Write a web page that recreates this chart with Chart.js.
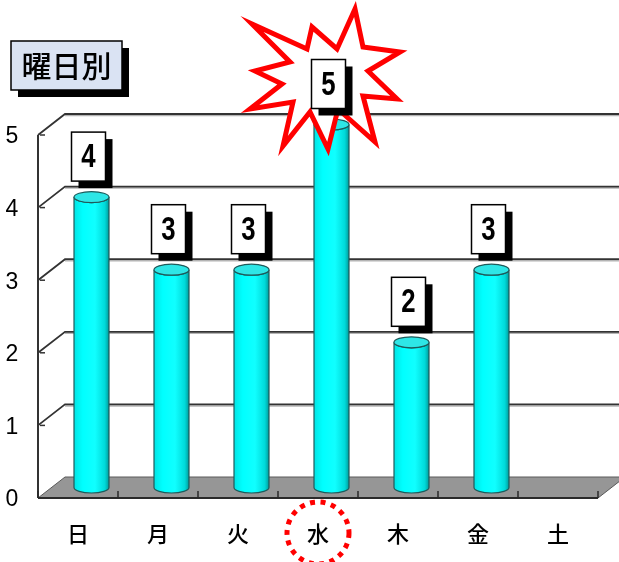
<!DOCTYPE html>
<html>
<head>
<meta charset="utf-8">
<script src="https://cdn.jsdelivr.net/npm/chart.js@4.4.1/dist/chart.umd.min.js"></script>
<style>
  html, body { margin: 0; padding: 0; background: #fff; }
  #wrap { width: 619px; height: 562px; }
</style>
</head>
<body>
<div id="wrap"><canvas id="dayChart" width="619" height="562"></canvas></div>
<script>
'use strict';

// Data
const days = ['日', '月', '火', '水', '木', '金', '土'];
const counts = [4, 3, 3, 5, 2, 3, 0];
const yTicks = [0, 1, 2, 3, 4, 5];
const chartTitle = '曜日別';
const highlightDay = '水';

// depth of the fake 3D box
const DX = 27;
const DY = -21;

const cjk = '"Noto Sans CJK JP", "Noto Sans", sans-serif';
const latin = '"Liberation Sans", Arial, sans-serif';

const wallPlugin = {
	id: 'wall',
	beforeDatasetsDraw: function (chart) {
		const ctx = chart.ctx;
		const y = chart.scales.y;
		const left = chart.chartArea.left;
		const right = chart.chartArea.right;
		const y0 = y.getPixelForValue(0);

		ctx.save();
		// floor
		ctx.fillStyle = '#969696';
		ctx.beginPath();
		ctx.moveTo(left, y0);
		ctx.lineTo(right, y0);
		ctx.lineTo(right + DX, y0 + DY);
		ctx.lineTo(left + DX, y0 + DY);
		ctx.closePath();
		ctx.fill();
		ctx.strokeStyle = '#5a5a5a';
		ctx.lineWidth = 1;
		ctx.stroke();

		// back wall grid lines with a soft shadow
		for (let i = 1; i < yTicks.length; ++i) {
			const py = y.getPixelForValue(yTicks[i]);
			ctx.strokeStyle = '#b4b4b4';
			ctx.lineWidth = 1.5;
			ctx.beginPath();
			ctx.moveTo(left + DX, py + DY + 1.5);
			ctx.lineTo(chart.width, py + DY + 1.5);
			ctx.stroke();
			ctx.strokeStyle = '#333333';
			ctx.lineWidth = 1.8;
			ctx.beginPath();
			ctx.moveTo(left, py);
			ctx.lineTo(left + DX, py + DY);
			ctx.lineTo(chart.width, py + DY);
			ctx.stroke();
		}

		// front value axis
		ctx.strokeStyle = '#333333';
		ctx.lineWidth = 2;
		ctx.beginPath();
		ctx.moveTo(left, y.getPixelForValue(yTicks[yTicks.length - 1]));
		ctx.lineTo(left, y0);
		ctx.stroke();
		ctx.lineWidth = 1.5;
		for (let i = 0; i < yTicks.length; ++i) {
			const py = y.getPixelForValue(yTicks[i]);
			ctx.beginPath();
			ctx.moveTo(left + 2, py);
			ctx.lineTo(left + 7, py);
			ctx.stroke();
		}

		// front floor edge and category ticks
		ctx.strokeStyle = '#2a2a2a';
		ctx.lineWidth = 2;
		ctx.beginPath();
		ctx.moveTo(left, y0);
		ctx.lineTo(right, y0);
		ctx.stroke();
		const step = (right - left) / days.length;
		ctx.lineWidth = 1.5;
		for (let i = 0; i <= days.length; ++i) {
			const px = left + i * step;
			ctx.beginPath();
			ctx.moveTo(px, y0);
			ctx.lineTo(px, y0 - 7);
			ctx.stroke();
		}
		ctx.restore();
	}
};

function drawCylinder(ctx, cx, top, base, w) {
	const rx = w / 2;
	const ry = 5.5;
	const grad = ctx.createLinearGradient(cx - rx, 0, cx + rx, 0);
	grad.addColorStop(0, '#00e4e4');
	grad.addColorStop(0.25, '#00ffff');
	grad.addColorStop(0.6, '#10ffff');
	grad.addColorStop(0.88, '#00dada');
	grad.addColorStop(1, '#009c9c');

	ctx.save();
	ctx.fillStyle = grad;
	ctx.strokeStyle = '#1e5a5a';
	ctx.lineWidth = 1.2;
	ctx.beginPath();
	ctx.moveTo(cx - rx, top);
	ctx.lineTo(cx - rx, base);
	ctx.ellipse(cx, base, rx, ry, 0, Math.PI, 0, true);
	ctx.lineTo(cx + rx, top);
	ctx.ellipse(cx, top, rx, ry, 0, 0, Math.PI, false);
	ctx.closePath();
	ctx.fill();
	ctx.stroke();

	// top cap
	ctx.fillStyle = '#2ee6e6';
	ctx.beginPath();
	ctx.ellipse(cx, top, rx, ry, 0, 0, Math.PI * 2);
	ctx.fill();
	ctx.stroke();
	ctx.restore();
}

const cylinderPlugin = {
	id: 'cylinders',
	afterDatasetsDraw: function (chart) {
		const ctx = chart.ctx;
		const meta = chart.getDatasetMeta(0);
		meta.data.forEach(function (bar, i) {
			if (!counts[i]) {
				return;
			}
			drawCylinder(ctx, bar.x + DX / 2, bar.y + DY / 2, bar.base + DY / 2, 35);
		});
	}
};

function drawStar(ctx, cx, cy) {
	// irregular burst outline, offsets from its centre
	const pts = [
		[33, -70], [15, -30], [-10, -52], [-15, -30], [-70, -55], [-32, -17],
		[-67, -8], [-40, 5], [-72, 30], [-29, 23], [-39, 67], [-12, 33],
		[6, 70], [16, 30], [53, 63], [41, 17], [75, 20], [46, -8],
		[78, -27], [41, -32]
	];
	ctx.save();
	ctx.beginPath();
	pts.forEach(function (p, i) {
		if (i === 0) {
			ctx.moveTo(cx + p[0], cy + p[1]);
		} else {
			ctx.lineTo(cx + p[0], cy + p[1]);
		}
	});
	ctx.closePath();
	ctx.fillStyle = '#ffffff';
	ctx.fill();
	ctx.strokeStyle = '#ff0000';
	ctx.lineWidth = 5;
	ctx.lineJoin = 'miter';
	ctx.stroke();
	ctx.restore();
}

function drawBox(ctx, x, y, w, h, fill, shadow) {
	ctx.fillStyle = '#000';
	ctx.fillRect(x + shadow, y + shadow, w, h);
	ctx.fillStyle = fill;
	ctx.fillRect(x, y, w, h);
	ctx.strokeStyle = '#000';
	ctx.lineWidth = 1.5;
	ctx.strokeRect(x, y, w, h);
}

const labelPlugin = {
	id: 'labels',
	afterDraw: function (chart) {
		const ctx = chart.ctx;
		const x = chart.scales.x;
		const y = chart.scales.y;
		const meta = chart.getDatasetMeta(0);

		ctx.save();
		// value ticks
		ctx.fillStyle = '#000';
		ctx.font = '23px ' + latin;
		ctx.textAlign = 'center';
		ctx.textBaseline = 'middle';
		yTicks.forEach(function (t) {
			ctx.fillText(String(t), 12, y.getPixelForValue(t) + 2);
		});

		// category labels
		ctx.font = '500 22px ' + cjk;
		days.forEach(function (d, i) {
			ctx.fillText(d, x.getPixelForValue(i), 534);
		});

		// dotted ring round the highlighted day
		const hi = days.indexOf(highlightDay);
		ctx.strokeStyle = '#ff0000';
		ctx.lineWidth = 5;
		ctx.setLineDash([5, 5.6]);
		ctx.beginPath();
		ctx.arc(x.getPixelForValue(hi), 533, 31, 0, Math.PI * 2);
		ctx.stroke();
		ctx.setLineDash([]);

		// burst behind the top value
		const maxIdx = counts.indexOf(Math.max.apply(null, counts));
		const maxBar = meta.data[maxIdx];
		drawStar(ctx, maxBar.x + 4, maxBar.y - 56);

		// value boxes, digits squeezed to look condensed
		ctx.font = 'bold 33px ' + latin;
		meta.data.forEach(function (bar, i) {
			if (!counts[i]) {
				return;
			}
			const cx = bar.x + DX / 2 - 3;
			const bottom = bar.y + DY / 2 - 16;
			drawBox(ctx, cx - 17, bottom - 49, 34, 49, '#ffffff', 7);
			ctx.save();
			ctx.translate(cx, bottom - 23);
			ctx.scale(0.78, 1);
			ctx.fillStyle = '#000';
			ctx.fillText(String(counts[i]), 0, 0);
			ctx.restore();
		});

		// title box
		drawBox(ctx, 11, 41, 111, 49, '#dae3f3', 7);
		ctx.fillStyle = '#000';
		ctx.font = '500 30px ' + cjk;
		ctx.fillText(chartTitle, 66.5, 66);
		ctx.restore();
	}
};

const dayChart = new Chart(document.getElementById('dayChart'), {
	type: 'bar',
	data: {
		labels: days,
		datasets: [
			{
				data: counts,
				backgroundColor: 'rgba(0,0,0,0)',
				borderWidth: 0,
				barPercentage: 0.44,
				categoryPercentage: 1
			}
		]
	},
	options: {
		responsive: false,
		animation: false,
		layout: {
			padding: { left: 38, right: 21, top: 135, bottom: 64 }
		},
		plugins: {
			legend: { display: false },
			tooltip: { enabled: false }
		},
		scales: {
			x: { display: false, offset: true },
			y: { display: false, min: 0, max: 5 }
		}
	},
	plugins: [wallPlugin, cylinderPlugin, labelPlugin]
});
</script>
</body>
</html>
